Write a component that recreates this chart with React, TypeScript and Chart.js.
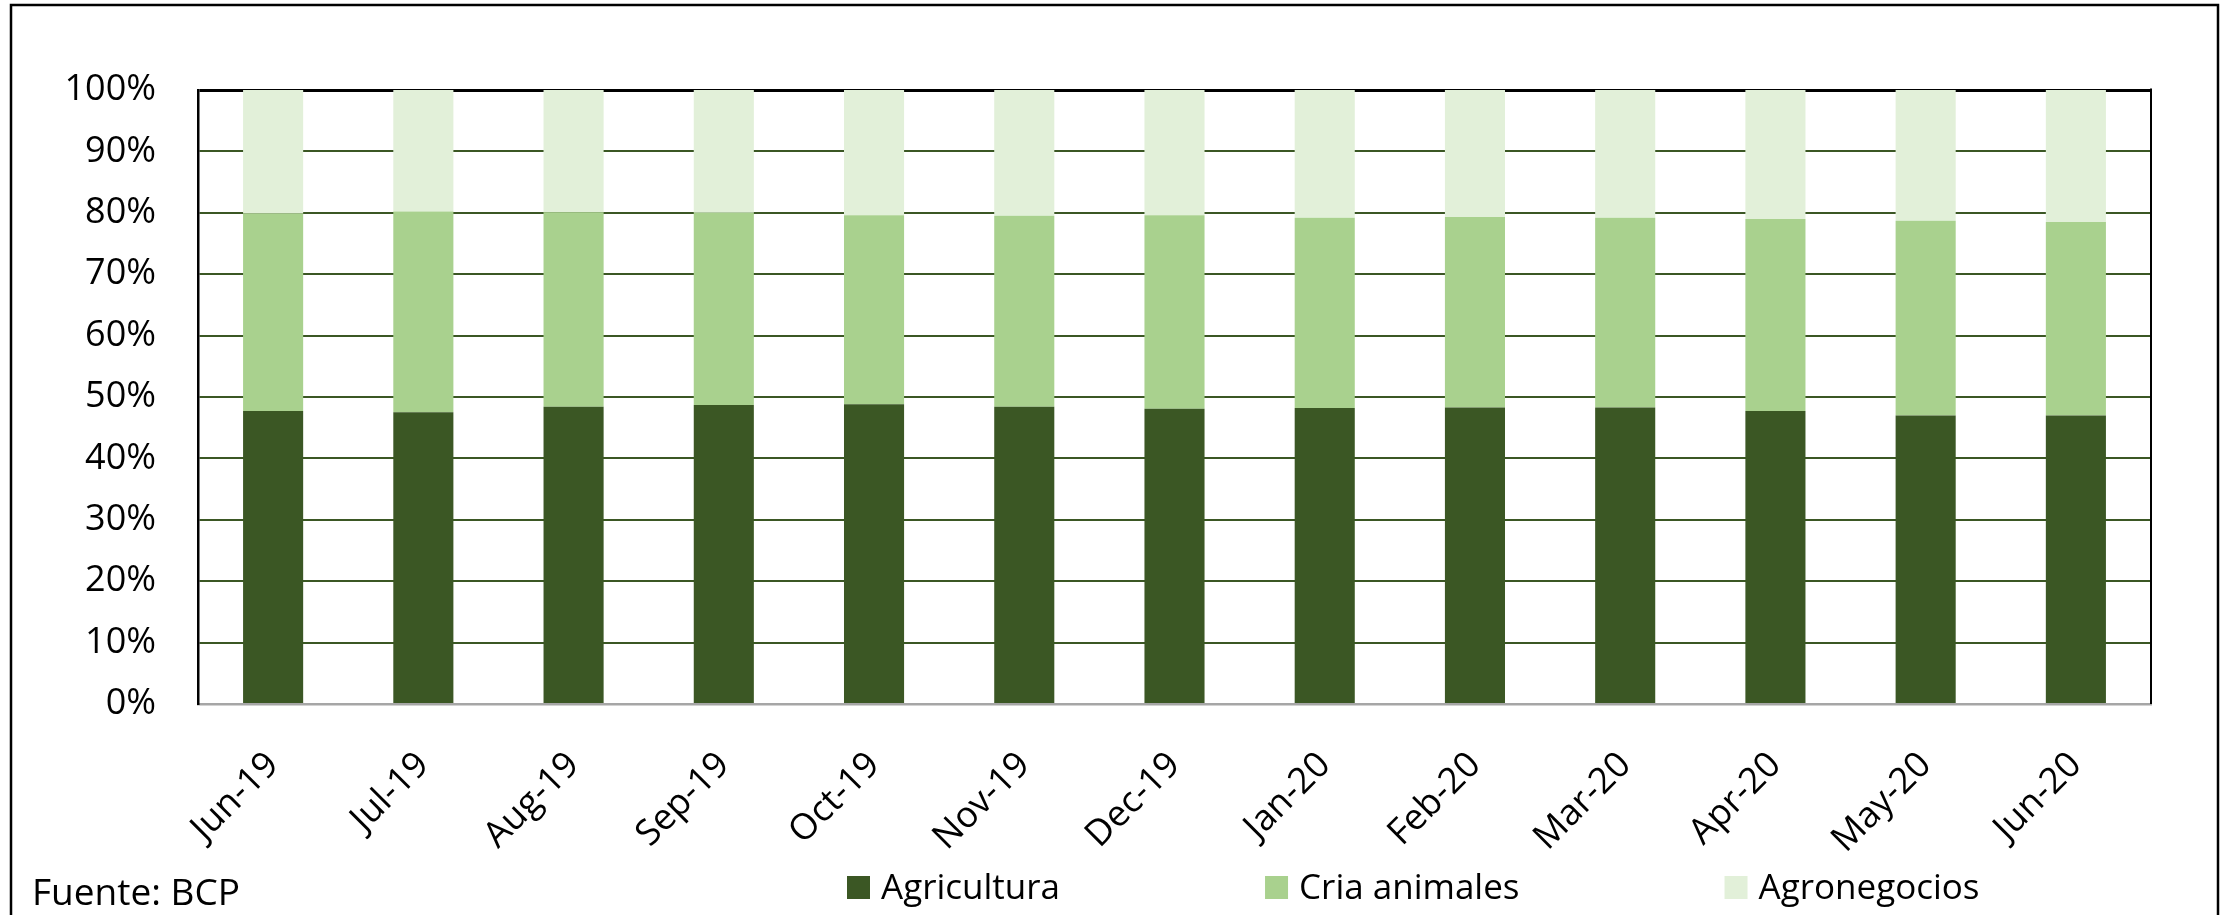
import { useEffect, useRef } from "react";
import { Chart, registerables } from "chart.js";

Chart.register(...registerables);

const categories = [
  "Jun-19", "Jul-19", "Aug-19", "Sep-19", "Oct-19", "Nov-19", "Dec-19",
  "Jan-20", "Feb-20", "Mar-20", "Apr-20", "May-20", "Jun-20",
];
const agricultura = [47.7, 47.5, 48.4, 48.7, 48.8, 48.4, 48.1, 48.2, 48.3, 48.3, 47.7, 47.0, 47.0];
const criaAnimales = [32.2, 32.7, 31.7, 31.3, 30.8, 31.1, 31.5, 31.0, 31.0, 30.9, 31.3, 31.7, 31.5];
const agronegocios = [20.1, 19.8, 19.9, 20.0, 20.4, 20.5, 20.4, 20.8, 20.7, 20.8, 21.0, 21.3, 21.5];
const seriesNames = ["Agricultura", "Cria animales", "Agronegocios"];
const seriesColors = ["#3B5724", "#A9D18E", "#E2F0D9"];
const sourceText = "Fuente: BCP";

const FONT = "'Open Sans', 'Noto Sans', sans-serif";

const decorPlugin = {
  id: "decor",
  afterDraw(chart: any) {
    const ctx = chart.ctx as CanvasRenderingContext2D;
    const a = chart.chartArea;
    ctx.save();
    // right border of plot area
    ctx.strokeStyle = "#000";
    ctx.lineWidth = 2;
    ctx.beginPath();
    ctx.moveTo(a.right, a.top - 1.5);
    ctx.lineTo(a.right, a.bottom);
    ctx.stroke();
    // outer frame
    ctx.lineWidth = 2.5;
    ctx.strokeRect(11, 5, 2207, 1000);
    // source note
    ctx.font = `37px ${FONT}`;
    ctx.fillStyle = "#000";
    ctx.textAlign = "left";
    ctx.textBaseline = "alphabetic";
    ctx.fillText(sourceText, 32, 905);
    // legend
    ctx.font = `35px ${FONT}`;
    let x = 847;
    chart.data.datasets.forEach((ds: any) => {
      ctx.fillStyle = ds.backgroundColor;
      ctx.fillRect(x, 876, 23, 23);
      ctx.fillStyle = "#000";
      ctx.fillText(ds.label, x + 34, 899);
      x += 34 + ctx.measureText(ds.label).width + 205;
    });
    ctx.restore();
  },
};

export default function App() {
  const ref = useRef<HTMLCanvasElement>(null);
  useEffect(() => {
    document.body.style.margin = "0";
    Chart.defaults.font.family = FONT;
    const chart = new Chart(ref.current!, {
      type: "bar",
      data: {
        labels: categories,
        datasets: [agricultura, criaAnimales, agronegocios].map((d, i) => ({
          label: seriesNames[i],
          data: d,
          backgroundColor: seriesColors[i],
          borderWidth: 0,
          categoryPercentage: 1,
          barPercentage: 0.4,
        })),
      },
      options: {
        animation: false,
        responsive: false,
        devicePixelRatio: 1,
        layout: { padding: { left: 0, right: 80, top: 90, bottom: 0 } },
        plugins: {
          legend: { display: false },
          tooltip: { enabled: false },
          title: { display: false },
        },
        scales: {
          x: {
            stacked: true,
            grid: { display: false, drawTicks: false },
            border: { display: true, color: "#A6A6A6", width: 2.5 },
            ticks: {
              autoSkip: false,
              minRotation: 45,
              maxRotation: 45,
              padding: 40,
              color: "#000",
              font: { size: 36, family: FONT },
            },
            afterFit: (s: any) => {
              s.height = 211;
            },
          },
          y: {
            stacked: true,
            min: 0,
            max: 100,
            ticks: {
              stepSize: 10,
              padding: 42,
              color: "#000",
              font: { size: 36, family: FONT },
              callback: (v: any) => `${v}%`,
            },
            grid: {
              drawTicks: false,
              color: (c: any) =>
                c.tick && c.tick.value === 100 ? "#000" : c.tick && c.tick.value === 0 ? "#A6A6A6" : "#3B5724",
              lineWidth: (c: any) => (c.tick && c.tick.value === 100 ? 3 : 2),
            },
            border: { display: true, color: "#000", width: 2.5 },
            afterFit: (s: any) => {
              s.width = 198;
            },
          },
        },
      },
      plugins: [decorPlugin],
    });
    return () => chart.destroy();
  }, []);
  return (
    <div style={{ width: 2231, height: 915 }}>
      <canvas ref={ref} width={2231} height={915} style={{ display: "block", width: 2231, height: 915 }} />
    </div>
  );
}
